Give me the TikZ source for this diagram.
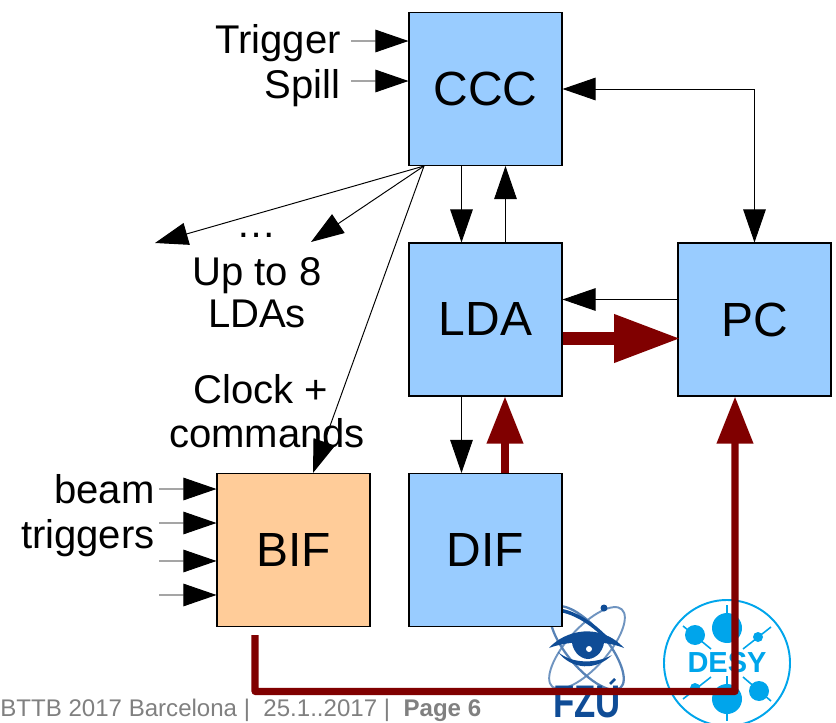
\documentclass[tikz,border=0pt]{standalone}
\usepackage{xcolor}
\usepackage{fontspec}
\setmainfont{Liberation Sans}
\usetikzlibrary{arrows.meta}
\definecolor{boxblue}{HTML}{99CCFF}
\definecolor{boxorange}{HTML}{FFCC99}
\definecolor{linkred}{HTML}{800000}
\definecolor{desyblue}{HTML}{00A5EB}
\definecolor{fzublue}{HTML}{0F4C96}
\tikzset{
  board/.style={draw=black, line width=0.6pt, minimum size=3.06cm, inner sep=0pt, font=\fontsize{27.3}{27}\selectfont},
  label/.style={inner sep=0pt, font=\fontsize{22.8}{24}\selectfont},
  sig/.style={draw=black, line width=0.55pt, -{Triangle[length=0.66cm, width=0.45cm]}},
  sigboth/.style={draw=black, line width=0.55pt, {Triangle[length=0.66cm, width=0.45cm]}-{Triangle[length=0.66cm, width=0.45cm]}},
  link/.style={draw=linkred, line width=4pt, -{Triangle[length=0.94cm, width=0.7cm]}},
  biglink/.style={draw=linkred, line width=7.5pt, shorten >=-2pt, -{Triangle[length=1.34cm, width=0.9cm]}}
}

\begin{document}
\begin{tikzpicture}[x=0.02cm, y=-0.02cm]
  \useasboundingbox (0, 0) rectangle (836, 723);

  % DESY logo
  \draw[desyblue, line width=1.1pt] (727, 663) circle (63);
  \draw[desyblue, line width=0.9pt] (727, 605) -- (727, 620) (727, 676) -- (727, 721);
  \draw[desyblue, line width=0.9pt] (683, 626) -- (711, 649) (771, 627) -- (743, 649);
  \draw[desyblue, line width=0.9pt] (683, 699) -- (711, 677) (771, 701) -- (743, 677);
  \fill[desyblue] (727, 628) circle (15) (727, 699) circle (15);
  \fill[desyblue] (695, 635) circle (10) (759, 691) circle (10);
  \fill[desyblue] (758, 637) circle (5) (695, 688) circle (5);
  \node[inner sep=0pt, text=desyblue, font=\fontsize{16.5}{16.5}\selectfont\bfseries] (desy) at (727, 663) {DESY};

  % FZU logo
  \draw[fzublue!60, line width=1.1pt, rotate around={48:(587, 648)}] (587, 648) ellipse (52 and 20);
  \draw[fzublue!70, line width=1.3pt, rotate around={-50:(587, 648)}] (587, 648) ellipse (52 and 20);
  \draw[fzublue, line width=2pt] (558, 610) .. controls (575, 612) and (595, 625) .. (610, 642);
  \fill[fzublue] (604, 608) circle (3.5);
  \fill[fzublue] (549, 648) .. controls (565, 630) and (600, 622) .. (624, 648)
    .. controls (605, 640) and (570, 640) .. (549, 648) -- cycle;
  \fill[fzublue] (572, 636) -- (604, 636) .. controls (606, 650) and (596, 659) .. (588, 659)
    .. controls (580, 659) and (570, 650) .. (572, 636) -- cycle;
  \fill[white] (589, 649) circle (3);
  \fill[fzublue] (558, 652) .. controls (572, 664) and (596, 664) .. (612, 655)
    .. controls (596, 671) and (572, 670) .. (558, 652) -- cycle;
  \node[inner sep=0pt, text=fzublue, xscale=0.76, font=\fontsize{26}{26}\selectfont\bfseries] (fzu) at (587, 702) {FZU};
  \draw[fzublue, line width=1.5pt] (610, 684) -- (615, 679);

  \node[board, fill=boxblue] (ccc) at (485.5, 89) {CCC};
  \node[board, fill=boxblue] (lda) at (485.5, 319.5) {LDA};
  \node[board, fill=boxblue] (pc) at (754.5, 319.5) {PC};
  \node[board, fill=boxblue] (dif) at (485.5, 550) {DIF};
  \node[board, fill=boxorange] (bif) at (293.5, 550) {BIF};

  \node[label, anchor=east] (trigger) at (341, 43) {Trigger};
  \node[label, anchor=east] (spill) at (341, 88) {Spill};
  \node[label] (dots) at (257, 235) {…};
  \node[label, align=center] (upto) at (257, 293) {Up to 8\\LDAs};
  \node[label] (clock) at (261, 389) {Clock +};
  \node[label] (commands) at (267, 433) {commands};
  \node[label, anchor=east] (beam) at (155, 489) {beam};
  \node[label, anchor=east] (triggers) at (155, 538) {triggers};
  \node[inner sep=0pt, anchor=west, text=black!50, font=\fontsize{13.7}{14}\selectfont] (footer) at (0, 710)
    {BTTB 2017 Barcelona |\ \ 25.1..2017 |\ \ \textbf{Page 6}};

  \coordinate (trigger-in) at (351, 41);
  \coordinate (spill-in) at (351, 81);
  \coordinate (far-lda) at (155, 243);
  \coordinate (near-lda) at (311, 242);
  \coordinate (beam-a) at (159, 489);
  \coordinate (beam-b) at (159, 523);
  \coordinate (beam-c) at (159, 561);
  \coordinate (beam-d) at (159, 595);
  \coordinate (bif-out) at (255, 635);
  \coordinate (corner-a) at (255, 691.5);
  \coordinate (corner-b) at (735, 691.5);

  \draw[sig] (trigger-in) -- ([yshift=0.96cm]ccc.west);
  \draw[sig] (spill-in) -- ([yshift=0.16cm]ccc.west);
  \draw[sig] ([xshift=0.31cm]ccc.south west) -- (far-lda);
  \draw[sig] ([xshift=0.31cm]ccc.south west) -- (near-lda);
  \draw[sig] ([xshift=0.31cm]ccc.south west) -- ([xshift=0.39cm]bif.north);
  \draw[sig] ([xshift=-0.48cm]ccc.south) -- ([xshift=-0.48cm]lda.north);
  \draw[sig] ([xshift=0.4cm]lda.north) -- ([xshift=0.4cm]ccc.south);
  \draw[sigboth] (ccc.east) -| (pc.north);
  \draw[sig] ([yshift=0.4cm]pc.west) -- ([yshift=0.4cm]lda.east);
  \draw[sig] ([xshift=-0.48cm]lda.south) -- ([xshift=-0.48cm]dif.north);
  \draw[sig] (beam-a) -- ([yshift=1.22cm]bif.west);
  \draw[sig] (beam-b) -- ([yshift=0.54cm]bif.west);
  \draw[sig] (beam-c) -- ([yshift=-0.22cm]bif.west);
  \draw[sig] (beam-d) -- ([yshift=-0.9cm]bif.west);

  \draw[biglink] ([yshift=-0.38cm]lda.east) -- ([yshift=-0.38cm]pc.west);
  \draw[link] ([xshift=0.39cm]dif.north) -- ([xshift=0.39cm]lda.south);
  \draw[link, line join=round] (bif-out) -- (corner-a) -- (corner-b) -- ([xshift=-0.39cm]pc.south);
\end{tikzpicture}
\end{document}
